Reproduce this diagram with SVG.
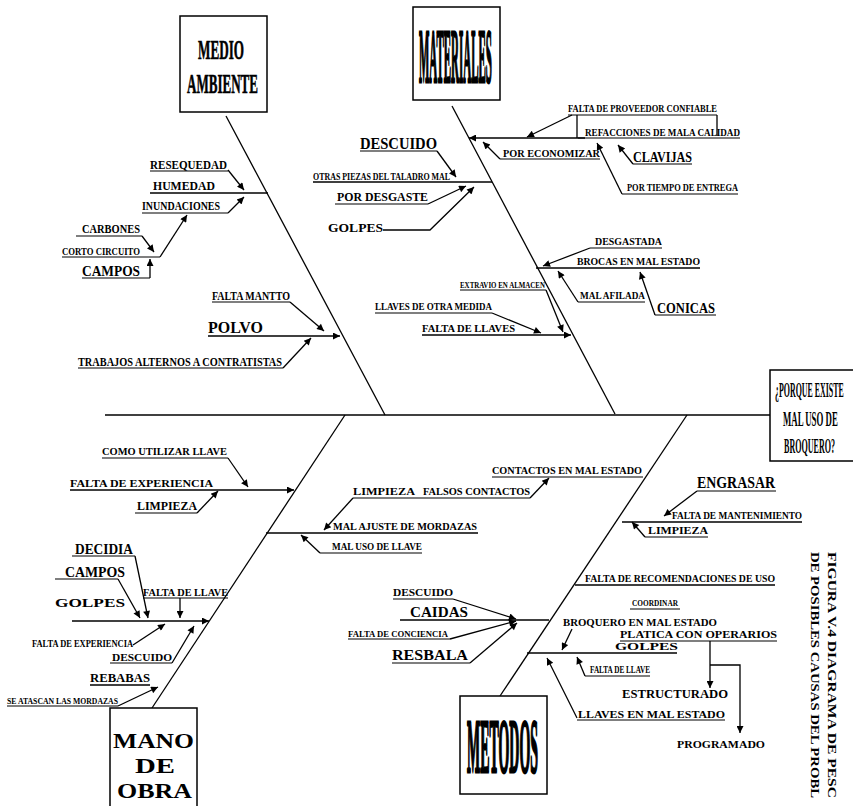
<svg xmlns="http://www.w3.org/2000/svg" width="853" height="806" viewBox="0 0 853 806">
<defs>
<marker id="ah" viewBox="0 0 10 10" refX="10" refY="5" markerWidth="9" markerHeight="7" markerUnits="userSpaceOnUse" orient="auto"><path d="M0,0 L10,5 L0,10 z" fill="#000"/></marker>
</defs>
<style>
text{font-family:"Liberation Serif","Times New Roman",serif;font-weight:bold;fill:#000}
.big{stroke:#000;stroke-width:1.2}
.l{stroke:#000;stroke-width:1.3;fill:none}
.a{stroke:#000;stroke-width:1.3;fill:none;marker-end:url(#ah)}
.u{stroke:#000;stroke-width:1.2;fill:none}
.box{fill:#fff;stroke:#000;stroke-width:1.5}
</style>
<rect width="853" height="806" fill="#fff"/>

<g id="connectors">
<path class="l" d="M105,415 H770"/>
<path class="l" d="M226,116 L385,415"/>
<path class="l" d="M452,106 L615,414"/>
<path class="l" d="M152,708 L345,415"/>
<path class="l" d="M500,696 L687,415"/>
<path class="l" d="M150,193 H268"/>
<path class="a" d="M228,170 L244,190"/>
<path class="a" d="M228,213 L244,197"/>
<path class="a" d="M142,236 L154,252"/>
<path class="a" d="M160,257 L187,215"/>
<path class="a" d="M150,278 V259"/>
<path class="a" d="M208,336 H340"/>
<path class="a" d="M290,302 L324,331"/>
<path class="a" d="M283,368 L311,338"/>
<path class="l" d="M313,182 H492"/>
<path class="a" d="M437,151 L456,177"/>
<path class="a" d="M428,204 L466,186"/>
<path class="a" d="M383,230 H430 L474,187"/>
<path class="a" d="M585,138 H469"/>
<path class="a" d="M572,115 L527,137"/>
<path class="l" d="M577,115 V138"/>
<path class="l" d="M717,115 V136"/>
<path class="a" d="M500,159 L483,142"/>
<path class="a" d="M633,164 L618,145"/>
<path class="a" d="M622,194 L597,143"/>
<path class="l" d="M536,268 H700"/>
<path class="a" d="M590,248 L543,266"/>
<path class="a" d="M578,302 L558,271"/>
<path class="a" d="M655,315 L640,272"/>
<path class="a" d="M546,290 L563,332"/>
<path class="a" d="M492,313 L541,333"/>
<path class="a" d="M422,335 H571"/>
<path class="a" d="M70,490 H294"/>
<path class="a" d="M228,458 L248,487"/>
<path class="a" d="M197,513 L218,491"/>
<path class="a" d="M72,621 H209"/>
<path class="a" d="M135,556 L148,618"/>
<path class="a" d="M118,579 L140,618"/>
<path class="a" d="M180,598 V618"/>
<path class="a" d="M133,645 L165,624"/>
<path class="a" d="M172,663 L194,626"/>
<path class="l" d="M90,685 H150"/>
<path class="a" d="M118,706 L158,687"/>
<path class="l" d="M266,533 H478"/>
<path class="a" d="M353,498 L324,530"/>
<path class="a" d="M530,498 L549,478"/>
<path class="a" d="M320,553 L301,535"/>
<path class="l" d="M622,522 H802"/>
<path class="a" d="M697,491 L664,516"/>
<path class="a" d="M645,537 L632,522"/>
<path class="l" d="M400,620 H549"/>
<path class="a" d="M453,599 L516,619"/>
<path class="a" d="M450,639 L516,621"/>
<path class="a" d="M470,663 L517,623"/>
<path class="l" d="M575,585 H775"/>
<path class="l" d="M527,653 H677"/>
<path class="a" d="M572,629 L562,650"/>
<path class="a" d="M585,676 L577,657"/>
<path class="a" d="M577,718 L547,658"/>
<path class="a" d="M710,641 V688"/>
<path class="a" d="M710,665 H740 V733"/>
</g>

<g id="medio-ambiente"><rect class="box" x="180" y="16" width="87" height="96"/>
<text class="big" x="198" y="59" font-size="28" textLength="46" lengthAdjust="spacingAndGlyphs" style="stroke-width:0.6">MEDIO</text>
<text class="big" x="187" y="93" font-size="28" textLength="71" lengthAdjust="spacingAndGlyphs" style="stroke-width:0.6">AMBIENTE</text></g>
<g id="materiales"><rect class="box" x="413" y="7" width="87" height="93"/>
<text class="big" transform="translate(419,82) scale(0.143,1)" font-size="76" textLength="510" lengthAdjust="spacingAndGlyphs" style="stroke-width:3">MATERIALES</text></g>
<g id="efecto"><path class="box" d="M853,370 H770 V461 H853"/>
<text transform="translate(775,397) scale(0.36,1)" font-size="22" textLength="191" lengthAdjust="spacingAndGlyphs">¿PORQUE EXISTE</text>
<text transform="translate(783,426) scale(0.4,1)" font-size="22" textLength="137" lengthAdjust="spacingAndGlyphs">MAL USO DE</text>
<text transform="translate(784,453) scale(0.37,1)" font-size="22" textLength="138" lengthAdjust="spacingAndGlyphs">BROQUERO?</text></g>
<g id="mano-de-obra"><rect class="box" x="110" y="708" width="87" height="100"/>
<text x="113" y="748" font-size="22" textLength="81" lengthAdjust="spacingAndGlyphs">MANO</text>
<text x="135" y="773" font-size="22" textLength="40" lengthAdjust="spacingAndGlyphs">DE</text>
<text x="117" y="798" font-size="22" textLength="75" lengthAdjust="spacingAndGlyphs">OBRA</text></g>
<g id="metodos"><rect class="box" x="460" y="696" width="87" height="98"/>
<text class="big" transform="translate(467,772) scale(0.183,1)" font-size="76" textLength="388" lengthAdjust="spacingAndGlyphs" style="stroke-width:3">METODOS</text></g>

<g id="labels-medio">
<text x="150" y="169" font-size="13" textLength="77" lengthAdjust="spacingAndGlyphs">RESEQUEDAD</text><path class="u" d="M150,171 H228"/>
<text x="153" y="190" font-size="13" textLength="62" lengthAdjust="spacingAndGlyphs">HUMEDAD</text>
<text x="142" y="210" font-size="12" textLength="78" lengthAdjust="spacingAndGlyphs">INUNDACIONES</text><path class="u" d="M142,213 H228"/>
<text x="82" y="233" font-size="12" textLength="58" lengthAdjust="spacingAndGlyphs">CARBONES</text><path class="u" d="M76,236 H142"/>
<text x="62" y="255" font-size="11" textLength="78" lengthAdjust="spacingAndGlyphs">CORTO CIRCUITO</text><path class="u" d="M62,257 H160"/>
<text x="82" y="276" font-size="15" textLength="58" lengthAdjust="spacingAndGlyphs">CAMPOS</text><path class="u" d="M82,278 H150"/>
<text x="212" y="300" font-size="12" textLength="78" lengthAdjust="spacingAndGlyphs">FALTA MANTTO</text><path class="u" d="M212,302 H290"/>
<text x="208" y="333" font-size="17" textLength="55" lengthAdjust="spacingAndGlyphs">POLVO</text>
<text x="78" y="366" font-size="12" textLength="204" lengthAdjust="spacingAndGlyphs">TRABAJOS ALTERNOS A CONTRATISTAS</text><path class="u" d="M78,368 H283"/>
</g>
<g id="labels-materiales">
<text x="360" y="149" font-size="17" textLength="77" lengthAdjust="spacingAndGlyphs">DESCUIDO</text><path class="u" d="M360,151 H437"/>
<text x="313" y="180" font-size="10" textLength="137" lengthAdjust="spacingAndGlyphs">OTRAS PIEZAS DEL TALADRO MAL</text>
<text x="337" y="201" font-size="13" textLength="91" lengthAdjust="spacingAndGlyphs">POR DESGASTE</text><path class="u" d="M335,204 H428"/>
<text x="328" y="232" font-size="13" textLength="55" lengthAdjust="spacingAndGlyphs">GOLPES</text>
<text x="568" y="112" font-size="10" textLength="149" lengthAdjust="spacingAndGlyphs">FALTA DE PROVEEDOR CONFIABLE</text><path class="u" d="M568,115 H717"/>
<text x="585" y="136" font-size="10" textLength="155" lengthAdjust="spacingAndGlyphs">REFACCIONES DE MALA CALIDAD</text><path class="u" d="M578,138 H740"/>
<text x="503" y="157" font-size="10" textLength="97" lengthAdjust="spacingAndGlyphs">POR ECONOMIZAR</text><path class="u" d="M500,159 H600"/>
<text x="633" y="162" font-size="14" textLength="59" lengthAdjust="spacingAndGlyphs">CLAVIJAS</text><path class="u" d="M633,164 H692"/>
<text x="627" y="191" font-size="10" textLength="111" lengthAdjust="spacingAndGlyphs">POR TIEMPO DE ENTREGA</text><path class="u" d="M622,194 H738"/>
<text x="595" y="245" font-size="11" textLength="67" lengthAdjust="spacingAndGlyphs">DESGASTADA</text><path class="u" d="M590,248 H662"/>
<text x="577" y="265" font-size="11" textLength="123" lengthAdjust="spacingAndGlyphs">BROCAS EN MAL ESTADO</text>
<text x="580" y="299" font-size="11" textLength="65" lengthAdjust="spacingAndGlyphs">MAL AFILADA</text><path class="u" d="M578,302 H645"/>
<text x="657" y="313" font-size="15" textLength="58" lengthAdjust="spacingAndGlyphs">CONICAS</text><path class="u" d="M655,315 H716"/>
<text x="460" y="288" font-size="9" textLength="85" lengthAdjust="spacingAndGlyphs">EXTRAVIO EN ALMACEN</text><path class="u" d="M460,290 H546"/>
<text x="375" y="310" font-size="11" textLength="117" lengthAdjust="spacingAndGlyphs">LLAVES DE OTRA MEDIDA</text><path class="u" d="M375,313 H492"/>
<text x="422" y="332" font-size="11" textLength="93" lengthAdjust="spacingAndGlyphs">FALTA DE LLAVES</text>
</g>
<g id="labels-mano">
<text x="102" y="455" font-size="11" textLength="125" lengthAdjust="spacingAndGlyphs">COMO UTILIZAR LLAVE</text><path class="u" d="M102,458 H228"/>
<text x="70" y="487" font-size="11" textLength="143" lengthAdjust="spacingAndGlyphs">FALTA DE EXPERIENCIA</text>
<text x="137" y="510" font-size="12" textLength="60" lengthAdjust="spacingAndGlyphs">LIMPIEZA</text><path class="u" d="M135,513 H197"/>
<text x="75" y="554" font-size="15" textLength="58" lengthAdjust="spacingAndGlyphs">DECIDIA</text><path class="u" d="M72,556 H135"/>
<text x="65" y="577" font-size="15" textLength="60" lengthAdjust="spacingAndGlyphs">CAMPOS</text><path class="u" d="M55,579 H118"/>
<text x="143" y="596" font-size="11" textLength="85" lengthAdjust="spacingAndGlyphs">FALTA DE LLAVE</text><path class="u" d="M143,598 H228"/>
<text x="55" y="607" font-size="13" textLength="70" lengthAdjust="spacingAndGlyphs">GOLPES</text>
<text x="32" y="647" font-size="11" textLength="101" lengthAdjust="spacingAndGlyphs">FALTA DE EXPERIENCIA</text>
<text x="112" y="661" font-size="10" textLength="60" lengthAdjust="spacingAndGlyphs">DESCUIDO</text><path class="u" d="M110,663 H172"/>
<text x="90" y="682" font-size="12" textLength="60" lengthAdjust="spacingAndGlyphs">REBABAS</text>
<text x="7" y="704" font-size="9" textLength="111" lengthAdjust="spacingAndGlyphs">SE ATASCAN LAS MORDAZAS</text><path class="u" d="M7,706 H118"/>
<text x="333" y="530" font-size="11" textLength="144" lengthAdjust="spacingAndGlyphs">MAL AJUSTE DE MORDAZAS</text>
<text x="353" y="495" font-size="11" textLength="62" lengthAdjust="spacingAndGlyphs">LIMPIEZA</text><path class="u" d="M353,498 H420"/>
<text x="423" y="495" font-size="10" textLength="107" lengthAdjust="spacingAndGlyphs">FALSOS CONTACTOS</text><path class="u" d="M420,498 H530"/>
<text x="492" y="474" font-size="11" textLength="150" lengthAdjust="spacingAndGlyphs">CONTACTOS EN MAL ESTADO</text><path class="u" d="M492,477 H643"/>
<text x="332" y="550" font-size="10" textLength="90" lengthAdjust="spacingAndGlyphs">MAL USO DE LLAVE</text><path class="u" d="M320,553 H422"/>
</g>
<g id="labels-metodos">
<text x="697" y="488" font-size="16" textLength="78" lengthAdjust="spacingAndGlyphs">ENGRASAR</text><path class="u" d="M697,491 H776"/>
<text x="672" y="519" font-size="10" textLength="130" lengthAdjust="spacingAndGlyphs">FALTA DE MANTENIMIENTO</text>
<text x="648" y="534" font-size="11" textLength="60" lengthAdjust="spacingAndGlyphs">LIMPIEZA</text><path class="u" d="M645,537 H708"/>
<text x="393" y="596" font-size="10" textLength="60" lengthAdjust="spacingAndGlyphs">DESCUIDO</text><path class="u" d="M393,599 H453"/>
<text x="410" y="617" font-size="14" textLength="58" lengthAdjust="spacingAndGlyphs">CAIDAS</text>
<text x="348" y="637" font-size="8" textLength="100" lengthAdjust="spacingAndGlyphs">FALTA DE CONCIENCIA</text><path class="u" d="M348,639 H450"/>
<text x="392" y="660" font-size="14" textLength="76" lengthAdjust="spacingAndGlyphs">RESBALA</text><path class="u" d="M392,663 H470"/>
<text x="585" y="582" font-size="10" textLength="190" lengthAdjust="spacingAndGlyphs">FALTA DE RECOMENDACIONES DE USO</text>
<text x="632" y="606" font-size="9" textLength="46" lengthAdjust="spacingAndGlyphs">COORDINAR</text><path class="u" d="M630,609 H680"/>
<text x="563" y="626" font-size="11" textLength="154" lengthAdjust="spacingAndGlyphs">BROQUERO EN MAL ESTADO</text>
<text x="620" y="638" font-size="10" textLength="157" lengthAdjust="spacingAndGlyphs">PLATICA CON OPERARIOS</text><path class="u" d="M620,641 H777"/>
<text x="615" y="650" font-size="11" textLength="63" lengthAdjust="spacingAndGlyphs">GOLPES</text>
<text x="590" y="673" font-size="10" textLength="60" lengthAdjust="spacingAndGlyphs">FALTA DE LLAVE</text><path class="u" d="M585,676 H650"/>
<text x="622" y="698" font-size="12" textLength="106" lengthAdjust="spacingAndGlyphs">ESTRUCTURADO</text>
<text x="578" y="718" font-size="11" textLength="147" lengthAdjust="spacingAndGlyphs">LLAVES EN MAL ESTADO</text><path class="u" d="M577,720 H725"/>
<text x="677" y="748" font-size="11" textLength="88" lengthAdjust="spacingAndGlyphs">PROGRAMADO</text>
</g>
<g id="caption">
<text transform="translate(828,552) rotate(90)" font-size="13" textLength="246" lengthAdjust="spacingAndGlyphs">FIGURA V.4  DIAGRAMA DE PESC</text>
<text transform="translate(811,552) rotate(90)" font-size="13" textLength="246" lengthAdjust="spacingAndGlyphs">DE POSIBLES CAUSAS DEL PROBL</text>
</g>
</svg>
